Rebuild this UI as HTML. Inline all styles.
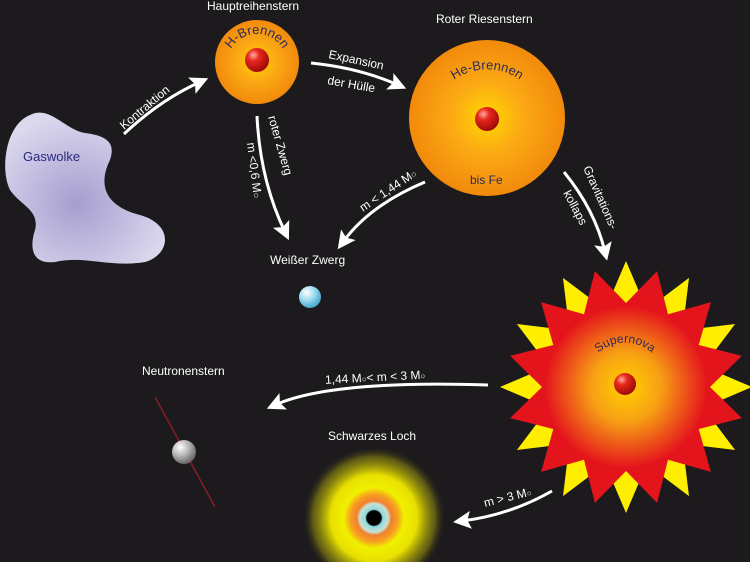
<!DOCTYPE html>
<html><head><meta charset="utf-8"><style>
html,body{margin:0;padding:0;background:#1c1a1c;}
svg{display:block;font-family:"Liberation Sans",sans-serif;}
</style></head><body>
<svg id="s" width="750" height="562" viewBox="0 0 750 562" xmlns="http://www.w3.org/2000/svg">
<defs>
<radialGradient id="gas" cx="0.45" cy="0.6" r="0.6"><stop offset="0" stop-color="#a69ed0"/><stop offset="1" stop-color="#dcd8ee"/></radialGradient>
<radialGradient id="sun" cx="0.5" cy="0.5" r="0.5"><stop offset="0" stop-color="#ffd800"/><stop offset="0.45" stop-color="#fbaa14"/><stop offset="1" stop-color="#f28a0c"/></radialGradient>
<radialGradient id="core" cx="0.35" cy="0.3" r="0.7"><stop offset="0" stop-color="#ffb0a0"/><stop offset="0.35" stop-color="#e8281c"/><stop offset="1" stop-color="#a00a0a"/></radialGradient>
<radialGradient id="wd" cx="0.35" cy="0.3" r="0.7"><stop offset="0" stop-color="#ffffff"/><stop offset="0.5" stop-color="#9fdcf0"/><stop offset="1" stop-color="#4aa8d0"/></radialGradient>
<radialGradient id="ns" cx="0.35" cy="0.3" r="0.7"><stop offset="0" stop-color="#ffffff"/><stop offset="0.5" stop-color="#b8b8b8"/><stop offset="1" stop-color="#6a6a6a"/></radialGradient>
<radialGradient id="sn" cx="0.5" cy="0.5" r="0.5"><stop offset="0" stop-color="#ffd000"/><stop offset="0.3" stop-color="#f7a014"/><stop offset="0.7" stop-color="#e4141c"/><stop offset="1" stop-color="#e4141c"/></radialGradient>
<radialGradient id="bh" cx="0.5" cy="0.5" r="0.5"><stop offset="0" stop-color="#000"/><stop offset="0.1" stop-color="#000"/><stop offset="0.12" stop-color="#8fd8e0"/><stop offset="0.2" stop-color="#c8e0d0"/><stop offset="0.24" stop-color="#f08030"/><stop offset="0.33" stop-color="#f7a020"/><stop offset="0.42" stop-color="#f0f000"/><stop offset="0.6" stop-color="#e8e000"/><stop offset="0.85" stop-color="#8a8510" stop-opacity="0.6"/><stop offset="1" stop-color="#1c1a1c" stop-opacity="0"/></radialGradient>
<marker id="ah" markerWidth="6" markerHeight="6" refX="3" refY="3" orient="auto" markerUnits="strokeWidth"><path d="M0,0 L6,3 L0,6 L1.2,3 Z" fill="#fff"/></marker>
</defs>

<path d="M30,115 C50,105 65,130 85,133 C110,136 115,145 110,160 C100,180 100,205 140,215 C175,225 170,255 145,262 C110,268 85,255 55,262 C30,265 30,245 35,230 C40,210 20,205 10,190 C0,170 5,125 30,115 Z" fill="url(#gas)"/>
<text x="23" y="161" font-size="13" fill="#2a2a7a">Gaswolke</text>

<g fill="none" stroke="#fff" stroke-width="3">
<path d="M124,134 Q160,100 200,82" marker-end="url(#ah)"/>
<path d="M311,63 Q360,68 398,85" marker-end="url(#ah)"/>
<path d="M257,116 Q260,180 285,232" marker-end="url(#ah)"/>
<path d="M425,182 Q370,205 343,242" marker-end="url(#ah)"/>
<path d="M564,172 Q595,210 605,252" marker-end="url(#ah)"/>
<path d="M488,385 Q330,380 275,405" marker-end="url(#ah)"/>
<path d="M552,491 Q510,515 462,521" marker-end="url(#ah)"/>
</g>
<text transform="translate(124,130) rotate(-40)" font-size="12" fill="#fff">Kontraktion</text>
<text transform="translate(328,58) rotate(12)" font-size="12" fill="#fff">Expansion</text>
<text transform="translate(327,84) rotate(10)" font-size="12" fill="#fff">der Hülle</text>
<text transform="translate(268,117) rotate(74)" font-size="12" fill="#fff">roter Zwerg</text>
<text transform="translate(247,143) rotate(83)" font-size="12" fill="#fff">m &lt;0,6 M<tspan font-size="9">○</tspan></text>
<text transform="translate(363,212) rotate(-34)" font-size="12" fill="#fff">m &lt; 1,44 M<tspan font-size="9">○</tspan></text>
<text transform="translate(583,168) rotate(66)" font-size="12" fill="#fff">Gravitations-</text>
<text transform="translate(563,193) rotate(62)" font-size="12" fill="#fff">kollaps</text>
<text x="325" y="381" font-size="12" fill="#fff" transform="rotate(-3 380 378)">1,44 M<tspan font-size="8">○</tspan>&lt; m &lt; 3 M<tspan font-size="8">○</tspan></text>
<text transform="translate(485,507) rotate(-14)" font-size="12" fill="#fff">m &gt; 3 M<tspan font-size="8">○</tspan></text>

<text x="207" y="10" font-size="12" fill="#fff">Hauptreihenstern</text>
<circle cx="257" cy="62" r="42" fill="url(#sun)"/>
<circle cx="257" cy="60" r="12" fill="url(#core)"/>
<path id="arc1" d="M227,64 A30,30 0 0 1 287,64" fill="none"/>
<text font-size="13" fill="#2e2a5a"><textPath href="#arc1" startOffset="50%" text-anchor="middle">H-Brennen</textPath></text>

<text x="436" y="23" font-size="12" fill="#fff">Roter Riesenstern</text>
<circle cx="487" cy="118" r="78" fill="url(#sun)"/>
<circle cx="487" cy="119" r="12" fill="url(#core)"/>
<path id="arc2" d="M437,98 A58,58 0 0 1 537,98" fill="none"/>
<text font-size="13" fill="#2e2a5a"><textPath href="#arc2" startOffset="50%" text-anchor="middle">He-Brennen</textPath></text>
<text x="470" y="184" font-size="12" fill="#2e2a5a">bis Fe</text>

<text x="270" y="264" font-size="12" fill="#fff">Weißer Zwerg</text>
<circle cx="310" cy="297" r="11" fill="url(#wd)"/>

<polygon id="ys" fill="#ffee00"/>
<polygon id="rs" fill="url(#sn)"/>
<circle cx="625" cy="384" r="11" fill="url(#core)"/>
<path id="arc3" d="M592,360 A40,40 0 0 1 658,360" fill="none"/>
<text font-size="12" fill="#2e2a5a"><textPath href="#arc3" startOffset="50%" text-anchor="middle">Supernova</textPath></text>

<text x="142" y="375" font-size="12" fill="#fff">Neutronenstern</text>
<line x1="155" y1="397" x2="215" y2="507" stroke="#8a1a24" stroke-width="1.5"/>
<circle cx="184" cy="452" r="12" fill="url(#ns)"/>

<text x="328" y="440" font-size="12" fill="#fff">Schwarzes Loch</text>
<circle cx="374" cy="518" r="72" fill="url(#bh)"/>
</svg>
<script>
function star(id,cx,cy,ro,ri,n,off){var p=[];for(var i=0;i<2*n;i++){var a=(off+i*180/n-90)*Math.PI/180;var r=i%2?ri:ro;p.push((cx+r*Math.cos(a)).toFixed(1)+','+(cy+r*Math.sin(a)).toFixed(1));}document.getElementById(id).setAttribute('points',p.join(' '));}
star('ys',626,387,126,80,12,0);
star('rs',626,387,120,84,12,15);
</script>
</body></html>
